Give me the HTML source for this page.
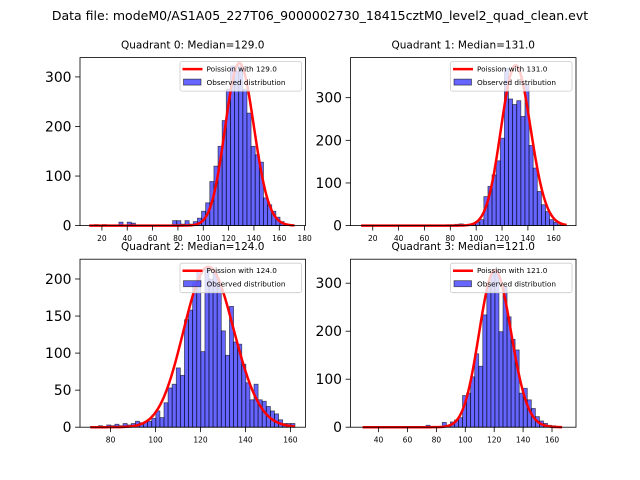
<!DOCTYPE html>
<html><head><meta charset="utf-8">
<style>
html,body{margin:0;padding:0;background:#fff;}
svg{display:block;font-family:"DejaVu Sans","Liberation Sans",sans-serif;}
</style></head>
<body>
<svg id="fig" width="640" height="480" viewBox="0 0 640 480" xmlns="http://www.w3.org/2000/svg">
<rect width="640" height="480" fill="#fff"/>
<text x="320" y="20" font-size="12.5" text-anchor="middle" fill="#000">Data file: modeM0/AS1A05_227T06_9000002730_18415cztM0_level2_quad_clean.evt</text>
</svg>
<script>
// ---------- data ----------
const q0Counts = [1,2,1,2,1,1,0,7,1,7,5,1,0,1,0,0,0,1,0,1,10,10,3,10,3,8,15,29,46,89,120,160,212,275,322,312,322,275,227,160,143,128,56,42,29,17,8,2,1,0];
const q1Counts = [1,1,1,1,1,1,1,1,1,1,1,1,1,1,1,1,1,1,1,1,2,2,3,4,2,3,5,8,14,68,92,119,152,205,369,297,284,293,256,330,188,135,80,49,33,14,8,2,1,0];
const q2Counts = [1,1,2,1,3,2,4,2,5,3,5,8,6,7,8,12,22,13,33,53,58,80,70,145,158,195,210,102,215,200,210,195,130,97,163,115,112,85,60,37,58,37,35,28,22,18,10,5,5,5];
const q3Counts = [0,0,0,0,0,0,0,0,0,0,0,0,0,0,0,4,0,1,1,10,4,11,15,20,66,71,105,153,127,234,296,322,330,199,293,230,183,161,71,81,57,39,22,13,8,4,3,1,0,0];
const binStarts = [10.6, 13.7, 71, 30.9];
const binWidths = [3.26, 3.18, 1.82, 2.8];
const medians = [129.0, 131.0, 124.0, 121.0];
const poissonScale = [9340, 10790, 6045, 9020];
const curveRanges = [[10,172],[11,170],[71,162],[29,167]];
const xLimits = [[2.7,180.7],[2.8,177.2],[66.4,166.7],[20.6,176.6]];
const yMaxes = [339, 394, 226.7, 350];
const q0XTicks = [20,40,60,80,100,120,140,160,180];
const q1XTicks = [20,40,60,80,100,120,140,160];
const q2XTicks = [80,100,120,140,160];
const q3XTicks = [40,60,80,100,120,140,160];
const q0YTicks = [0,100,200,300];
const q1YTicks = [0,100,200,300];
const q2YTicks = [0,50,100,150,200];
const q3YTicks = [0,100,200,300];

const allCounts = [q0Counts,q1Counts,q2Counts,q3Counts];
const allXTicks = [q0XTicks,q1XTicks,q2XTicks,q3XTicks];
const allYTicks = [q0YTicks,q1YTicks,q2YTicks,q3YTicks];

const NS = "http://www.w3.org/2000/svg";
const svg = document.getElementById('fig');
function mk(tag, attrs, parent){
  const e = document.createElementNS(NS, tag);
  for (const k in attrs) e.setAttribute(k, attrs[k]);
  (parent||svg).appendChild(e);
  return e;
}
function lnFact(n){ let s=0; for(let i=2;i<=n;i++) s+=Math.log(i); return s; }

const boxes = [[80,57.6],[350.5,57.6],[80,259.2],[350.5,259.2]];
const W = 225.5, H = 168;

for (let p=0;p<4;p++){
  const L = boxes[p][0], T = boxes[p][1], B = T+H, R = L+W;
  const xl = xLimits[p], ym = yMaxes[p];
  const px = x => L + (x-xl[0])/(xl[1]-xl[0])*W;
  const py = v => B - v/ym*H;
  const g = mk('g', {});
  
  

  const counts = allCounts[p];
  for (let k=0;k<counts.length;k++){
    const lo = binStarts[p] + k*binWidths[p];
    const x0 = px(lo), x1 = px(lo+binWidths[p]);
    const y = py(counts[k]);
    const r = mk('rect', {x:x0, y:y, width:Math.max(0,x1-x0), height:Math.max(0,B-y),
      fill:'rgba(0,0,255,0.6)', stroke:'rgba(0,0,0,0.6)', 'stroke-width':0.8}, g);
    
    
  }
  const mu = medians[p];
  let d = '';
  for (let k=curveRanges[p][0]; k<=curveRanges[p][1]; k++){
    const v = Math.exp(k*Math.log(mu) - mu - lnFact(k)) * poissonScale[p];
    d += (d?'L':'M') + px(k).toFixed(2) + ',' + py(v).toFixed(2);
  }
  const cl = mk('path', {d:d, fill:'none', stroke:'#ff0000', 'stroke-width':2.5, 'stroke-linejoin':'round'}, g);
  
  

  const fr = mk('rect', {x:L, y:T, width:W, height:H, fill:'none', stroke:'#000', 'stroke-width':0.8}, g);
  
  

  for (const t of allXTicks[p]){
    const x = px(t);
    mk('line', {x1:x, x2:x, y1:B, y2:B+4.9, stroke:'#000', 'stroke-width':0.8}, g);
    const tl = mk('text', {x:x, y:B+15.5, 'font-size':7.5, 'text-anchor':'middle', fill:'#000'}, g);
    tl.textContent = t;
    
    
  }
  for (const t of allYTicks[p]){
    const y = py(t);
    mk('line', {x1:L-4.9, x2:L, y1:y, y2:y, stroke:'#000', 'stroke-width':0.8}, g);
    const tl = mk('text', {x:L-8.5, y:y+5, 'font-size':13.9, 'text-anchor':'end', fill:'#000'}, g);
    tl.textContent = t;
    
    
  }
  const ti = mk('text', {x:L+W/2, y:T-9, 'font-size':10.5, 'text-anchor':'middle', fill:'#000'}, g);
  ti.textContent = 'Quadrant '+p+': Median='+medians[p].toFixed(1);
  
  

  const lg = mk('g', {}, g);
  
  
  const lx = R-125.5, ly = T+4;
  mk('rect', {x:lx, y:ly, width:121.5, height:29.5, rx:2, fill:'rgba(255,255,255,0.8)', stroke:'#cccccc', 'stroke-width':0.8}, lg);
  mk('line', {x1:lx+2.5, x2:lx+22.5, y1:ly+7.5, y2:ly+7.5, stroke:'#ff0000', 'stroke-width':2.5}, lg);
  const t1 = mk('text', {x:lx+26.5, y:ly+10, 'font-size':7.3, fill:'#000'}, lg);
  t1.textContent = 'Poission with '+medians[p].toFixed(1);
  
  
  mk('rect', {x:lx+3.5, y:ly+17.5, width:17.5, height:6, fill:'rgba(0,0,255,0.6)', stroke:'rgba(0,0,0,0.6)', 'stroke-width':0.8}, lg);
  const t2 = mk('text', {x:lx+26.5, y:ly+23.5, 'font-size':7.3, fill:'#000'}, lg);
  t2.textContent = 'Observed distribution';
  
  
}
</script>
</body></html>
